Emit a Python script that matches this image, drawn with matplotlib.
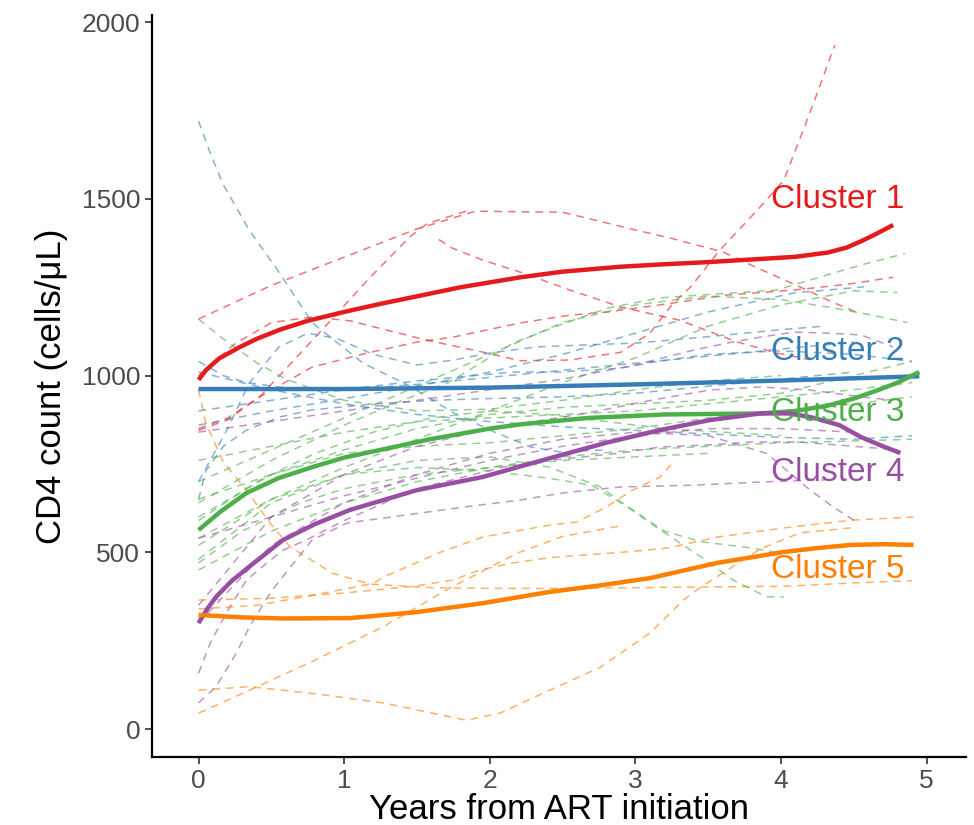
import matplotlib
matplotlib.use("Agg")
import matplotlib.pyplot as plt
from matplotlib import font_manager

# colours (ColorBrewer Set1, as in the original ggplot)
red, blue, green, purple, orange = "#E41A1C", "#377EB8", "#4DAF4A", "#984EA3", "#FF7F00"

# individual patient trajectories: [years, CD4]
cluster1_paths = [
    [[0, 0.5, 1, 1.5, 1.9, 2.5, 3.0, 3.24, 3.6, 3.84, 4.13, 4.32, 4.53],
     [1160, 1255, 1335, 1415, 1465, 1462, 1412, 1389, 1350, 1304, 1251, 1214, 1177]],
    [[0, 0.2, 0.42, 0.85, 1.16, 1.45, 1.57, 1.86],
     [850, 880, 940, 1130, 1270, 1392, 1430, 1468]],
    [[1.65, 1.74, 1.95, 2.23, 2.55, 2.9, 3.3, 3.7, 3.97, 4.2],
     [1385, 1361, 1327, 1290, 1242, 1194, 1157, 1095, 1064, 1045]],
    [[0, 0.2, 0.42, 0.78, 1.16, 1.5, 1.75, 2.21, 2.55, 2.81, 3.17, 3.63, 4.09, 4.45, 4.77],
     [845, 875, 940, 1024, 1064, 1095, 1109, 1149, 1171, 1180, 1200, 1228, 1242, 1258, 1278]],
    [[0, 0.25, 0.5, 0.78, 1.04, 1.3, 1.57, 1.98, 2.21, 2.55, 2.9, 3.1, 3.26, 3.38, 3.58, 3.84, 4.02, 4.2, 4.37],
     [1000, 1090, 1150, 1166, 1155, 1128, 1100, 1064, 1042, 1044, 1066, 1120, 1205, 1251, 1355, 1469, 1553, 1745, 1935]],
]
cluster2_paths = [
    [[0, 0.08, 0.17, 0.35, 0.54, 0.78, 1.13, 1.43, 1.75, 2.0, 2.28, 2.48, 2.8],
     [1720, 1630, 1540, 1410, 1300, 1150, 1035, 975, 895, 846, 798, 784, 790]],
    [[0, 0.17, 0.33, 0.7, 1.0, 1.5, 2.0, 2.5, 3.0, 3.5, 4.0, 4.5],
     [1040, 1000, 980, 960, 960, 975, 995, 1015, 1035, 1055, 1075, 1095]],
    [[0, 0.2, 0.35, 0.55, 0.75, 0.95, 1.2, 1.5, 1.75, 2.0, 2.32, 2.67, 3.01, 3.5, 4.0, 4.3],
     [700, 850, 980, 1080, 1120, 1105, 1060, 1030, 1044, 1064, 1081, 1087, 1092, 1110, 1130, 1140]],
    [[0, 0.5, 1.0, 1.5, 2.0, 2.5, 3.0, 3.5, 4.09, 4.57],
     [860, 900, 935, 970, 1010, 1060, 1120, 1180, 1234, 1251]],
    [[0, 0.5, 1.0, 1.5, 2.16, 2.48, 2.9, 3.12, 3.5, 4.0, 4.5, 4.9],
     [900, 930, 960, 985, 1010, 1010, 1021, 1038, 1060, 1070, 1060, 1040]],
    [[0, 0.5, 1.0, 1.5, 2.0, 2.5, 3.0, 3.5, 4.0, 4.5, 4.9],
     [1010, 960, 920, 890, 870, 855, 845, 835, 825, 820, 830]],
    [[0, 0.05, 0.17, 0.33, 0.56, 0.78, 1.2, 1.6, 2.0, 2.5, 3.0, 3.5, 4.0, 4.5],
     [650, 730, 800, 846, 883, 903, 920, 930, 935, 940, 950, 970, 990, 1010]],
]
cluster3_paths = [
    [[0, 0.15, 0.4, 0.6, 1.0, 1.5, 2.0, 2.5, 3.0, 3.5, 4.0],
     [1160, 1110, 1036, 990, 930, 900, 905, 930, 960, 985, 1000]],
    [[0, 0.5, 1.0, 1.4, 1.71, 1.86, 2.16, 2.48, 2.81, 3.17, 3.6, 3.97, 4.27, 4.55, 4.85],
     [640, 760, 860, 930, 979, 1016, 1092, 1143, 1191, 1220, 1232, 1242, 1279, 1313, 1345]],
    [[0, 0.5, 1.0, 1.5, 2.0, 2.5, 3.0, 3.5, 4.0, 4.32, 4.55, 4.87],
     [700, 790, 880, 970, 1060, 1150, 1200, 1225, 1215, 1194, 1177, 1150]],
    [[0, 0.5, 1.0, 1.5, 2.0, 2.5, 3.0, 3.5, 4.0, 4.5, 4.8],
     [540, 650, 740, 820, 900, 980, 1050, 1140, 1200, 1240, 1235]],
    [[0, 0.5, 1.0, 1.5, 2.0, 2.5, 3.0, 3.5, 4.0, 4.5, 4.9],
     [760, 800, 840, 870, 880, 890, 900, 920, 940, 960, 980]],
    [[0, 0.5, 1.0, 1.5, 2.0, 2.5, 3.0, 3.5, 4.0, 4.5, 4.9],
     [600, 720, 780, 800, 810, 830, 850, 880, 900, 920, 940]],
    [[0, 0.5, 1.0, 1.5, 2.0, 2.41, 2.76, 3.1, 3.45, 3.67, 3.9, 4.02],
     [480, 640, 720, 760, 770, 741, 685, 583, 487, 422, 374, 374]],
    [[0, 0.5, 1.0, 1.5, 2.0, 2.4, 2.7, 3.0, 3.2, 3.45, 3.75, 4.0],
     [520, 650, 720, 740, 730, 710, 690, 615, 560, 530, 515, 498]],
    [[0, 0.5, 1.0, 1.5, 2.0, 2.5, 3.0, 3.5, 4.0, 4.5, 4.9],
     [450, 560, 640, 700, 740, 770, 790, 800, 810, 815, 820]],
    [[0, 0.5, 1.0, 1.5, 2.0, 2.5, 3.0, 3.5, 4.0, 4.5, 4.9],
     [650, 720, 790, 850, 890, 910, 920, 930, 950, 1000, 1040]],
    [[0, 0.4, 0.8, 1.2, 1.6, 2.0, 2.4, 2.8, 3.2, 3.6, 4.0],
     [590, 700, 780, 840, 880, 900, 890, 870, 850, 840, 830]],
    [[0, 0.3, 0.7, 1.0, 1.5, 2.0, 2.5, 3.0, 3.5],
     [470, 560, 640, 680, 720, 740, 760, 770, 780]],
]
cluster4_paths = [
    [[0, 0.12, 0.26, 0.35, 0.5, 0.63, 0.78, 1.02, 1.52, 1.82, 2.21, 2.5, 2.9, 3.4, 3.86, 4.3],
     [74, 120, 215, 290, 390, 458, 535, 583, 611, 628, 648, 668, 685, 690, 699, 705]],
    [[0, 0.08, 0.19, 0.33, 0.47, 0.58, 0.74, 1.0, 1.5, 2.09, 2.43, 2.9, 3.17, 3.51, 3.79, 4.13, 4.5, 4.8],
     [158, 243, 328, 422, 470, 506, 535, 590, 680, 741, 761, 781, 798, 804, 812, 812, 800, 790]],
    [[0, 0.5, 1.0, 1.5, 2.0, 2.5, 3.0, 3.4, 3.63, 3.86, 4.09, 4.32, 4.55, 4.77],
     [840, 870, 900, 930, 960, 990, 1030, 1072, 1092, 1109, 1123, 1120, 1115, 1081]],
    [[0, 0.5, 1.0, 1.5, 2.0, 2.67, 3.12, 3.51, 3.86, 4.2, 4.55, 4.77],
     [350, 600, 720, 800, 850, 894, 931, 959, 968, 959, 940, 930]],
    [[0, 0.5, 1.0, 1.5, 2.0, 2.5, 3.0, 3.5, 3.9, 4.2, 4.36, 4.53],
     [300, 520, 640, 720, 780, 820, 840, 830, 780, 676, 628, 583]],
    [[0, 0.5, 1.0, 1.5, 2.0, 2.5, 3.0, 3.5, 4.0, 4.5],
     [540, 600, 660, 710, 760, 800, 830, 850, 850, 840]],
]
cluster5_paths = [
    [[0, 0.05, 0.17, 0.33, 0.49, 0.63, 0.74, 0.92, 1.18, 1.6, 2.0, 2.5, 3.0, 3.45, 4.02, 4.48, 4.9],
     [960, 866, 755, 676, 583, 515, 487, 441, 410, 400, 398, 398, 400, 402, 404, 413, 420]],
    [[0, 0.5, 1.0, 1.5, 1.75, 1.93, 2.16, 2.41, 2.9, 3.22, 3.56, 4.02, 4.48, 4.91],
     [365, 370, 385, 405, 422, 450, 470, 485, 500, 512, 543, 569, 591, 600]],
    [[0, 0.4, 0.8, 1.2, 1.27, 1.66, 1.95, 2.41, 2.6, 2.8, 2.98, 3.17, 3.25],
     [340, 350, 380, 412, 430, 500, 543, 577, 586, 628, 676, 713, 750]],
    [[0, 0.35, 0.8, 1.27, 1.73, 2.19, 2.5, 2.9],
     [45, 110, 195, 290, 400, 498, 545, 575]],
    [[0, 0.35, 0.8, 1.27, 1.84, 2.07, 2.41, 2.76, 3.1, 3.33, 3.45, 3.86, 4.13, 4.5],
     [110, 120, 100, 74, 25, 45, 110, 175, 272, 365, 402, 510, 555, 570]],
]

# cluster mean curves
mean1_x = [0, 0.05, 0.14, 0.28, 0.4, 0.56, 0.75, 1.02, 1.25, 1.52, 1.8, 2.21, 2.5, 2.9, 3.2, 3.5, 3.86, 4.1, 4.32, 4.45, 4.55, 4.65, 4.77]
mean1_y = [988, 1015, 1048, 1080, 1104, 1130, 1155, 1182, 1203, 1226, 1250, 1278, 1294, 1308, 1315, 1321, 1330, 1336, 1348, 1362, 1380, 1400, 1426]
mean2_x = [0, 1, 2, 3, 4, 4.95]
mean2_y = [962, 962, 966, 975, 986, 998]
mean3_x = [0, 0.15, 0.33, 0.55, 0.78, 1.0, 1.24, 1.59, 2.0, 2.21, 2.67, 3.2, 3.86, 4.1, 4.32, 4.5, 4.66, 4.8, 4.95]
mean3_y = [563, 615, 668, 710, 741, 768, 789, 820, 850, 862, 880, 890, 893, 900, 915, 935, 958, 980, 1010]
mean4_x = [0, 0.06, 0.12, 0.23, 0.35, 0.58, 0.8, 1.04, 1.5, 1.95, 2.41, 2.8, 3.17, 3.51, 3.86, 4.05, 4.2, 4.4, 4.55, 4.7, 4.82]
mean4_y = [300, 340, 374, 420, 460, 535, 580, 620, 676, 713, 766, 810, 846, 874, 893, 893, 883, 860, 826, 800, 781]
mean5_x = [0, 0.3, 0.58, 1.04, 1.5, 1.95, 2.41, 2.75, 3.1, 3.56, 4.02, 4.25, 4.48, 4.7, 4.91]
mean5_y = [323, 316, 313, 314, 331, 356, 388, 406, 427, 470, 501, 512, 521, 523, 521]

labels = ["Cluster 1", "Cluster 2", "Cluster 3", "Cluster 4", "Cluster 5"]
label_y = [1497, 1068, 896, 727, 452]


def pick_font(names):
    for n in names:
        try:
            font_manager.findfont(n, fallback_to_default=False)
            return n
        except ValueError:
            pass
    return "DejaVu Sans"


regular = pick_font(["Liberation Sans", "DejaVu Sans"])

fig = plt.figure(figsize=(9.74, 8.25), dpi=100)
ax = fig.add_axes([0.156, 0.0824, 0.8357, 0.8994])

colors = [red, blue, green, purple, orange]
all_paths = [cluster1_paths, cluster2_paths, cluster3_paths, cluster4_paths, cluster5_paths]
for paths, c in zip(all_paths, colors):
    for xs, ys in paths:
        ax.plot(xs, ys, color=c, lw=1.1, alpha=0.6, dashes=(5, 4))

means = [(mean1_x, mean1_y), (mean2_x, mean2_y), (mean3_x, mean3_y),
         (mean4_x, mean4_y), (mean5_x, mean5_y)]
for (xs, ys), c in zip(means, colors):
    ax.plot(xs, ys, color=c, lw=3.2, solid_capstyle="butt")

for lab, y, c in zip(labels, label_y, colors):
    ax.text(4.85, y, lab, color=c, ha="right", va="center",
            fontsize=24, family=regular)

ax.set_xlim(-0.32, 5.27)
ax.set_ylim(-79, 2020)
ax.set_xticks([0, 1, 2, 3, 4, 5])
ax.set_yticks([0, 500, 1000, 1500, 2000])
for s in ["top", "right"]:
    ax.spines[s].set_visible(False)
for s in ["left", "bottom"]:
    ax.spines[s].set_linewidth(1.6)
ax.tick_params(length=5, width=1.2, color="#333333", labelcolor="#4D4D4D",
               labelsize=19)
for t in ax.get_xticklabels() + ax.get_yticklabels():
    t.set_family(regular)
ax.set_xlabel("Years from ART initiation", fontsize=25, family=regular, labelpad=0)
ax.set_ylabel("CD4 count (cells/μL)", fontsize=25, family=regular, labelpad=10)

fig.savefig("out.png", dpi=100)
